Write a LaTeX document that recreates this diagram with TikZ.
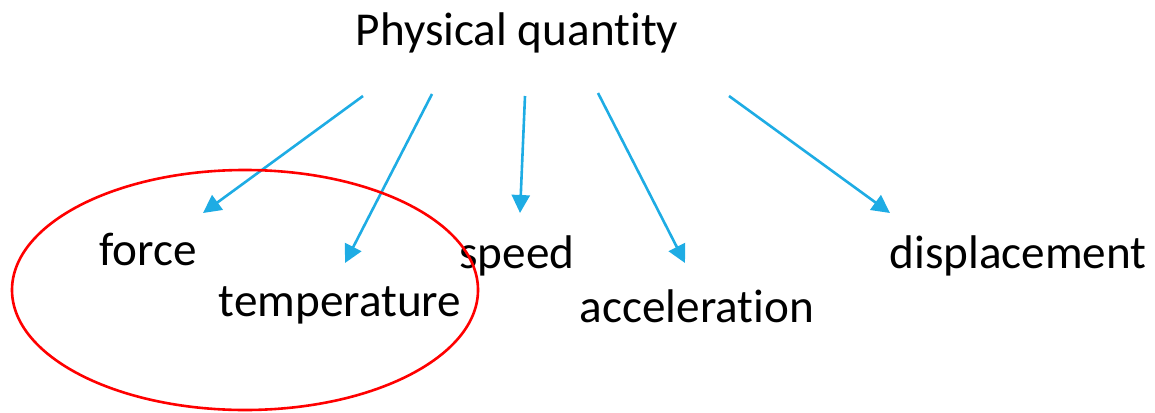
\documentclass[tikz,border=0pt]{standalone}
\usepackage{fontspec}
\setmainfont[Ligatures={NoCommon}]{Carlito}
\usepackage{tikz}
\usetikzlibrary{arrows.meta, positioning, shapes.geometric}
\definecolor{arrowblue}{RGB}{30,172,228}

\begin{document}
\begin{tikzpicture}[
    x=0.5pt, y=-0.5pt,
    font=\fontsize{23.6}{28}\selectfont,
    word/.style={inner sep=0pt, anchor=base},
    arrow/.style={-{Triangle[length=9pt, width=9pt]}, draw=arrowblue, line width=1.3pt},
    ring/.style={draw=red, line width=1.3pt}
]
\useasboundingbox (0,0) rectangle (1155,412);

% Nodes
\node (title) [word] at (517,45) {Physical quantity};
\node (force) [word] at (148,265) {force};
\node (temperature) [word] at (340,316) {temperature};
\node (speed) [word] at (517,268) {speed};
\node (acceleration) [word] at (697,322) {acceleration};
\node (displacement) [word] at (1018,268) {displacement};

% Arrow ends
\coordinate (s1) at (363,96);
\coordinate (s2) at (432,94);
\coordinate (s3) at (525,96);
\coordinate (s4) at (598,93);
\coordinate (s5) at (729,96);
\coordinate (e1) at (203,213);
\coordinate (e2) at (345,263);
\coordinate (e3) at (520,213);
\coordinate (e4) at (685,263);
\coordinate (e5) at (890,213);

% Paths
\draw [arrow] (s1) -- (e1);
\draw [arrow] (s2) -- (e2);
\draw [arrow] (s3) -- (e3);
\draw [arrow] (s4) -- (e4);
\draw [arrow] (s5) -- (e5);

% Circle round the first two
\draw [ring] (245,290) ellipse [x radius=233, y radius=120];

\end{tikzpicture}
\end{document}
